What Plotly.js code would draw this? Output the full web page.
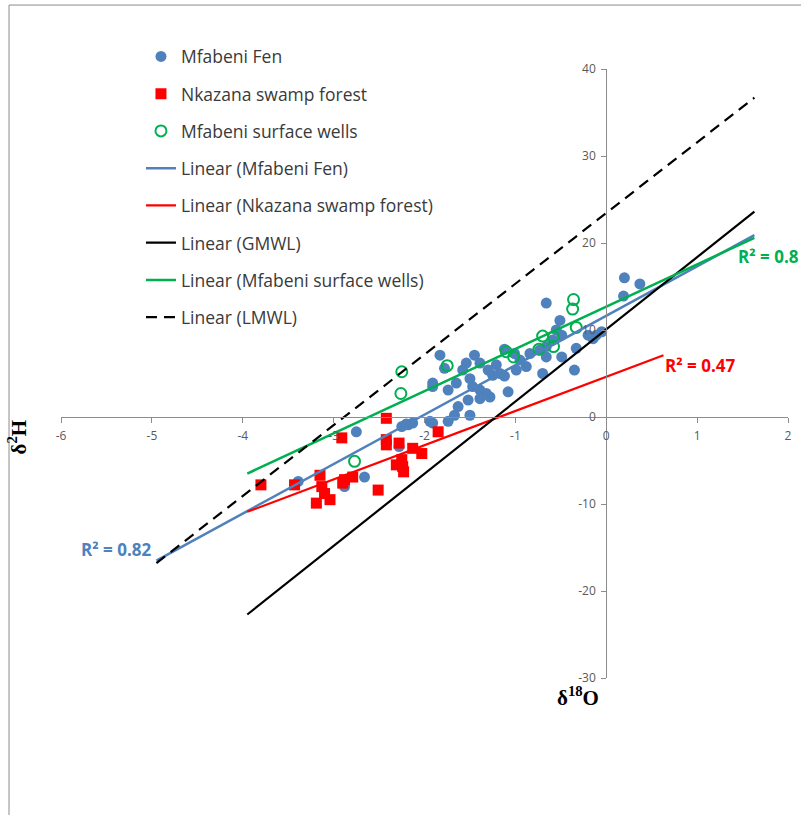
<!DOCTYPE html>
<html>
<head>
<meta charset="utf-8">
<script src="https://cdn.plot.ly/plotly-3.0.1.min.js"></script>
<style>
  html, body { margin: 0; padding: 0; background: #ffffff; }
  #chart { width: 801px; height: 815px; }
</style>
</head>
<body>
<div id="chart"></div>
<script>
// Mfabeni Fen samples (δ18O, δ2H)
const fenO = [0.20, 0.37, 0.19, -0.66, -0.51, -1.12, -1.45, -1.83, -1.78, -1.91,
  -1.91, -1.50, -1.47, -1.39, -1.32, -1.25, -1.17, -1.12, -1.08, -1.39,
  -1.52, -1.63, -1.67, -1.50, -1.74, -1.94, -1.91, -2.13, -2.18, -2.25,
  -0.88, -0.84, -0.73, -0.66, -0.59, -0.49, -0.55, -0.70, -0.35, -0.33,
  -0.49, -0.66, -0.20, -0.11, -0.05, -0.145, -0.99, -0.95, -1.01, -1.21,
  -1.30, -1.39, -1.58, -1.54, -1.65, -1.74, -1.28, -2.75, -2.66, -2.88,
  -3.39, -2.28, -2.20];
const fenH = [16.0, 15.3, 13.9, 13.1, 11.1, 7.8, 7.1, 7.1, 5.6, 3.9,
  3.5, 4.4, 3.5, 3.1, 2.7, 4.8, 5.0, 4.7, 2.9, 2.1,
  1.95, 1.2, 0.2, 0.2, -0.5, -0.5, -0.7, -0.7, -0.9, -1.1,
  5.8, 7.3, 7.7, 8.1, 8.85, 9.4, 10.0, 5.0, 5.4, 7.9,
  6.9, 6.9, 9.4, 9.4, 9.8, 9.0, 5.4, 6.55, 7.3, 6.0,
  5.4, 6.2, 5.4, 6.2, 3.9, 3.1, 2.3, -1.7, -6.9, -8.0,
  -7.4, -3.4, -0.8];

// Nkazana swamp forest samples
const nkzO = [-3.80, -2.91, -2.42, -2.42, -2.42, -2.28, -2.13, -2.03, -2.25, -2.24,
  -2.31, -2.23, -2.51, -2.79, -2.88, -2.90, -3.15, -3.13, -3.10, -3.04,
  -3.19, -3.43, -1.85];
const nkzH = [-7.8, -2.4, -0.15, -2.6, -3.2, -3.0, -3.6, -4.2, -4.9, -5.7,
  -5.5, -6.3, -8.4, -6.9, -7.2, -7.6, -6.7, -8.0, -8.8, -9.5,
  -9.9, -7.8, -1.7];

// Mfabeni surface wells samples
const wellO = [-0.36, -0.37, -0.33, -0.70, -0.58, -0.74, -0.58, -1.10, -1.02, -1.75,
  -2.25, -2.26, -2.77];
const wellH = [13.5, 12.4, 10.3, 9.3, 9.2, 7.8, 8.1, 7.5, 6.9, 5.9,
  5.2, 2.7, -5.1];

// Linear trendline end points (δ18O, δ2H)
const fenFitO = [-4.95, 1.63];
const fenFitH = [-16.5, 20.9];
const nkzFitO = [-3.95, 0.63];
const nkzFitH = [-10.9, 7.1];
const gmwlO = [-3.95, 1.63];
const gmwlH = [-22.7, 23.6];
const wellFitO = [-3.95, 1.63];
const wellFitH = [-6.5, 20.6];
const lmwlO = [-4.95, 1.63];
const lmwlH = [-16.8, 36.7];

// Coefficients of determination shown beside the fits
const r2Fen = '0.82';
const r2Nkz = '0.47';
const r2Well = '0.8';

// Axis ticks (labels written with a plain hyphen)
const xTickVals = [-6, -5, -4, -3, -2, -1, 0, 1, 2];
const xTickText = ['-6', '-5', '-4', '-3', '-2', '-1', '0', '1', '2'];
const yTickVals = [-30, -20, -10, 0, 10, 20, 30, 40];
const yTickText = ['-30', '-20', '-10', '0', '10', '20', '30', '40'];

const BLUE = '#4F81BD';
const RED = '#FF0000';
const GREEN = '#00B050';
const TXT = 'Open Sans, Liberation Sans, sans-serif';
const SERIF = 'Liberation Serif, DejaVu Serif, serif';

const traces = [
  { name: 'Mfabeni Fen', x: fenO, y: fenH, type: 'scatter', mode: 'markers',
    marker: { color: BLUE, size: 11, symbol: 'circle' }, legendgroup: 'a' },
  { name: 'Nkazana swamp forest', x: nkzO, y: nkzH, type: 'scatter', mode: 'markers',
    marker: { color: RED, size: 11, symbol: 'square' }, legendgroup: 'b' },
  { name: 'Mfabeni surface wells', x: wellO, y: wellH, type: 'scatter', mode: 'markers',
    marker: { color: GREEN, size: 11, symbol: 'circle-open', line: { width: 2, color: GREEN } }, legendgroup: 'c' },
  { name: 'Linear (Mfabeni Fen)', x: fenFitO, y: fenFitH, type: 'scatter', mode: 'lines',
    line: { color: BLUE, width: 2.5 }, legendgroup: 'd' },
  { name: 'Linear (Nkazana swamp forest)', x: nkzFitO, y: nkzFitH, type: 'scatter', mode: 'lines',
    line: { color: RED, width: 2.2 }, legendgroup: 'e' },
  { name: 'Linear (GMWL)', x: gmwlO, y: gmwlH, type: 'scatter', mode: 'lines',
    line: { color: '#000000', width: 2.2 }, legendgroup: 'f' },
  { name: 'Linear (Mfabeni surface wells)', x: wellFitO, y: wellFitH, type: 'scatter', mode: 'lines',
    line: { color: GREEN, width: 2.5 }, legendgroup: 'g' },
  { name: 'Linear (LMWL)', x: lmwlO, y: lmwlH, type: 'scatter', mode: 'lines',
    line: { color: '#000000', width: 2.2, dash: '11px,7px' }, legendgroup: 'h' }
];

const axisCommon = {
  showgrid: false, zeroline: false, showline: true,
  linecolor: '#8c8c8c', linewidth: 1,
  ticks: 'outside', ticklen: 5, tickcolor: '#8c8c8c',
  tickfont: { family: TXT, size: 12, color: '#595959' },
  tickmode: 'array',
  fixedrange: true
};

const layout = {
  width: 801, height: 815,
  margin: { l: 61, r: 13, t: 69, b: 137 },
  paper_bgcolor: '#ffffff', plot_bgcolor: '#ffffff',
  showlegend: true,
  legend: {
    x: 0.110, y: 1.05, xanchor: 'left', yanchor: 'top',
    bgcolor: 'rgba(0,0,0,0)', borderwidth: 0,
    font: { family: TXT, size: 17.5, color: '#3a3a3a' },
    tracegroupgap: 11.5
  },
  xaxis: Object.assign({}, axisCommon, {
    range: [-6, 2], tickvals: xTickVals, ticktext: xTickText,
    anchor: 'free', position: 30 / 70, ticklabelstandoff: 3
  }),
  yaxis: Object.assign({}, axisCommon, {
    range: [-30, 40], tickvals: yTickVals, ticktext: yTickText,
    anchor: 'free', position: 0.75, ticklabelstandoff: 3
  }),
  annotations: [
    { text: 'R² = ' + r2Fen, x: -5.39, y: -15.2, xref: 'x', yref: 'y', showarrow: false,
      xanchor: 'center', yanchor: 'middle',
      font: { family: TXT, size: 17, color: BLUE, weight: 'bold' } },
    { text: 'R² = ' + r2Nkz, x: 1.034, y: 5.9, xref: 'x', yref: 'y', showarrow: false,
      xanchor: 'center', yanchor: 'middle',
      font: { family: TXT, size: 17, color: RED, weight: 'bold' } },
    { text: 'R² = ' + r2Well, x: 1.43, y: 18.5, xref: 'x', yref: 'y', showarrow: false,
      xanchor: 'left', yanchor: 'middle',
      font: { family: TXT, size: 17, color: GREEN, weight: 'bold' } },
    { text: 'δ<sup>2</sup>H', textangle: -90, x: -0.06, y: -2.3, xref: 'paper', yref: 'y', showarrow: false,
      xanchor: 'center', yanchor: 'middle',
      font: { family: SERIF, size: 21, color: '#000000', weight: 'bold' } },
    { text: 'δ<sup>18</sup>O', x: -0.31, y: -0.031, xref: 'x', yref: 'paper', showarrow: false,
      xanchor: 'center', yanchor: 'middle',
      font: { family: SERIF, size: 21, color: '#000000', weight: 'bold' } }
  ],
  shapes: [
    { type: 'line', xref: 'paper', yref: 'paper', x0: -0.0715, x1: -0.0715, y0: 1.105, y1: -0.3,
      line: { color: '#8c8c8c', width: 1 } },
    { type: 'line', xref: 'paper', yref: 'paper', x0: -0.0715, x1: 1.1, y0: 1.105, y1: 1.105,
      line: { color: '#8c8c8c', width: 1 } }
  ]
};

Plotly.newPlot('chart', traces, layout, { displayModeBar: false, staticPlot: true });
</script>
</body>
</html>
